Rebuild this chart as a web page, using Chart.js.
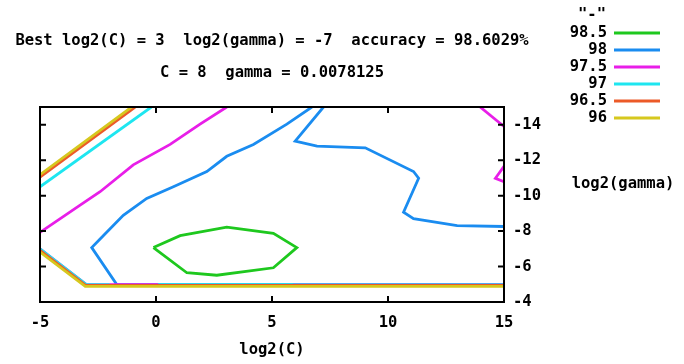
<!DOCTYPE html>
<html>
<head>
<meta charset="utf-8">
<script src="https://cdn.jsdelivr.net/npm/chart.js@4.4.1/dist/chart.umd.min.js"></script>
<style>
  html, body { margin: 0; padding: 0; background: #fff; }
  canvas { display: block; }
</style>
</head>
<body>
<canvas id="contour" width="684" height="364"></canvas>
<script>
// contour levels (legend order) and their colours
const levels = ['98.5', '98', '97.5', '97', '96.5', '96'];
const levelColors = ['#1ec81e', '#1a8cf0', '#e81ee8', '#1ee6f0', '#ec5a28', '#d6c81e'];

// axis ticks
const xTicks = [-5, 0, 5, 10, 15];
const yTicks = [-14, -12, -10, -8, -6, -4];

// best point from the grid search
const bestLog2C = 3;
const bestLog2Gamma = -7;
const bestAccuracy = '98.6029';

// contour 98.5 (closed loop)
const c985x = [-0.11, 1.04, 3.05, 5.06, 6.07, 5.06, 2.62, 1.33, -0.11];
const c985y = [-7.07, -7.74, -8.22, -7.87, -7.07, -5.93, -5.51, -5.65, -7.07];

// contour 98
const c98ax = [15, -1.69, -2.77, -2.41, -1.41, -0.40, 0.75, 2.19, 3.05, 4.20, 5.64, 6.72];
const c98ay = [-4.98, -4.98, -7.07, -7.55, -8.89, -9.84, -10.50, -11.36, -12.22, -12.89, -14.03, -15];
const c98bx = [7.22, 6.0, 6.94, 9.02, 11.10, 11.32, 10.67, 11.10, 12.98, 15];
const c98by = [-15, -13.07, -12.79, -12.70, -11.36, -10.98, -9.07, -8.70, -8.31, -8.26];

// contour 97.5
const c975ax = [-5, -3.27, -2.41, -0.98, 0.61, 1.90, 3.05];
const c975ay = [-7.93, -9.46, -10.22, -11.74, -12.89, -14.03, -15];
const c975bx = [13.97, 15];
const c975by = [-15, -13.9];
const c975cx = [15, 14.63, 15];
const c975cy = [-11.65, -10.98, -10.79];
const c975dx = [-5, -3, 0.1];
const c975dy = [-7.0, -4.98, -4.98];

// contour 97
const c97ax = [-5, -0.2];
const c97ay = [-10.5, -15];
const c97bx = [-5, -3, -2];
const c97by = [-7.0, -4.98, -4.98];
const c97cx = [0.1, 5.9];
const c97cy = [-4.98, -4.98];

// contour 96.5
const c965ax = [-5, -0.9];
const c965ay = [-11.05, -15];
const c965bx = [-5, -3.02, 15];
const c965by = [-6.92, -4.93, -4.93];

// contour 96
const c96ax = [-5, -1.05];
const c96ay = [-11.18, -15];
const c96bx = [-5, -3.05, 15];
const c96by = [-6.82, -4.88, -4.88];

const segments = [
  [0, c985x, c985y],
  [1, c98ax, c98ay], [1, c98bx, c98by],
  [2, c975ax, c975ay], [2, c975bx, c975by], [2, c975cx, c975cy], [2, c975dx, c975dy],
  [3, c97ax, c97ay], [3, c97bx, c97by], [3, c97cx, c97cy],
  [4, c965ax, c965ay], [4, c965bx, c965by],
  [5, c96ax, c96ay], [5, c96bx, c96by]
];

const monoFont = 'bold 15.5px "DejaVu Sans Mono", "Liberation Mono", monospace';

const datasets = segments.map(([lvl, xs, ys]) => ({
  label: levels[lvl],
  data: xs.map((v, i) => ({ x: v, y: ys[i] })),
  showLine: true,
  borderColor: levelColors[lvl],
  borderWidth: 2.8,
  pointRadius: 0,
  fill: false,
  tension: 0,
  order: levels.length - 1 - lvl
}));

// titles, legend, inside ticks and frame like gnuplot
const gnuplotDecor = {
  id: 'gnuplotDecor',
  afterDatasetsDraw(chart) {
    const { ctx, chartArea: a, scales: { x, y } } = chart;
    ctx.save();
    ctx.strokeStyle = '#000';
    ctx.lineWidth = 2;
    ctx.beginPath();
    xTicks.forEach(v => {
      const px = x.getPixelForValue(v);
      ctx.moveTo(px, a.bottom); ctx.lineTo(px, a.bottom - 6);
      ctx.moveTo(px, a.top); ctx.lineTo(px, a.top + 6);
    });
    yTicks.forEach(v => {
      const py = y.getPixelForValue(v);
      ctx.moveTo(a.left, py); ctx.lineTo(a.left + 6, py);
      ctx.moveTo(a.right, py); ctx.lineTo(a.right - 6, py);
    });
    ctx.stroke();
    ctx.strokeRect(a.left, a.top, a.right - a.left, a.bottom - a.top);

    ctx.fillStyle = '#000';
    ctx.font = monoFont;
    ctx.textBaseline = 'middle';
    ctx.textAlign = 'center';
    const cx = (a.left + a.right) / 2;
    ctx.fillText('Best log2(C) = ' + bestLog2C + '  log2(gamma) = ' + bestLog2Gamma +
      '  accuracy = ' + bestAccuracy + '%', cx, 41);
    ctx.fillText('C = ' + Math.pow(2, bestLog2C) + '  gamma = ' + Math.pow(2, bestLog2Gamma), cx, 73);
    ctx.fillText('log2(C)', cx, 350);
    ctx.fillText('log2(gamma)', 623, 184);

    // legend
    ctx.fillText('"-"', 592, 15);
    ctx.textAlign = 'right';
    levels.forEach((lvl, i) => {
      const ly = 33 + i * 17;
      ctx.fillStyle = '#000';
      ctx.fillText(lvl, 607, ly);
      ctx.strokeStyle = levelColors[i];
      ctx.lineWidth = 2.8;
      ctx.beginPath();
      ctx.moveTo(614, ly);
      ctx.lineTo(660, ly);
      ctx.stroke();
    });
    ctx.restore();
  }
};

new Chart(document.getElementById('contour'), {
  type: 'scatter',
  data: { datasets },
  options: {
    responsive: false,
    animation: false,
    devicePixelRatio: 1,
    layout: { padding: { left: 40, top: 107, right: 0, bottom: 0 } },
    plugins: {
      legend: { display: false },
      title: { display: false },
      tooltip: { enabled: false }
    },
    scales: {
      x: {
        type: 'linear',
        position: 'bottom',
        min: -5,
        max: 15,
        afterBuildTicks: s => { s.ticks = xTicks.map(v => ({ value: v })); },
        afterFit: s => { s.height = 62; },
        grid: { display: false, drawTicks: false },
        border: { display: false },
        ticks: {
          padding: 12,
          color: '#000',
          maxRotation: 0,
          font: { family: '"DejaVu Sans Mono"', size: 15.5, weight: 'bold' }
        }
      },
      y: {
        type: 'linear',
        position: 'right',
        reverse: true,
        min: -15,
        max: -4,
        afterBuildTicks: s => { s.ticks = yTicks.map(v => ({ value: v })); },
        afterFit: s => { s.width = 180; },
        grid: { display: false, drawTicks: false },
        border: { display: false },
        ticks: {
          padding: 9,
          color: '#000',
          font: { family: '"DejaVu Sans Mono"', size: 15.5, weight: 'bold' }
        }
      }
    }
  },
  plugins: [gnuplotDecor]
});
</script>
</body>
</html>
